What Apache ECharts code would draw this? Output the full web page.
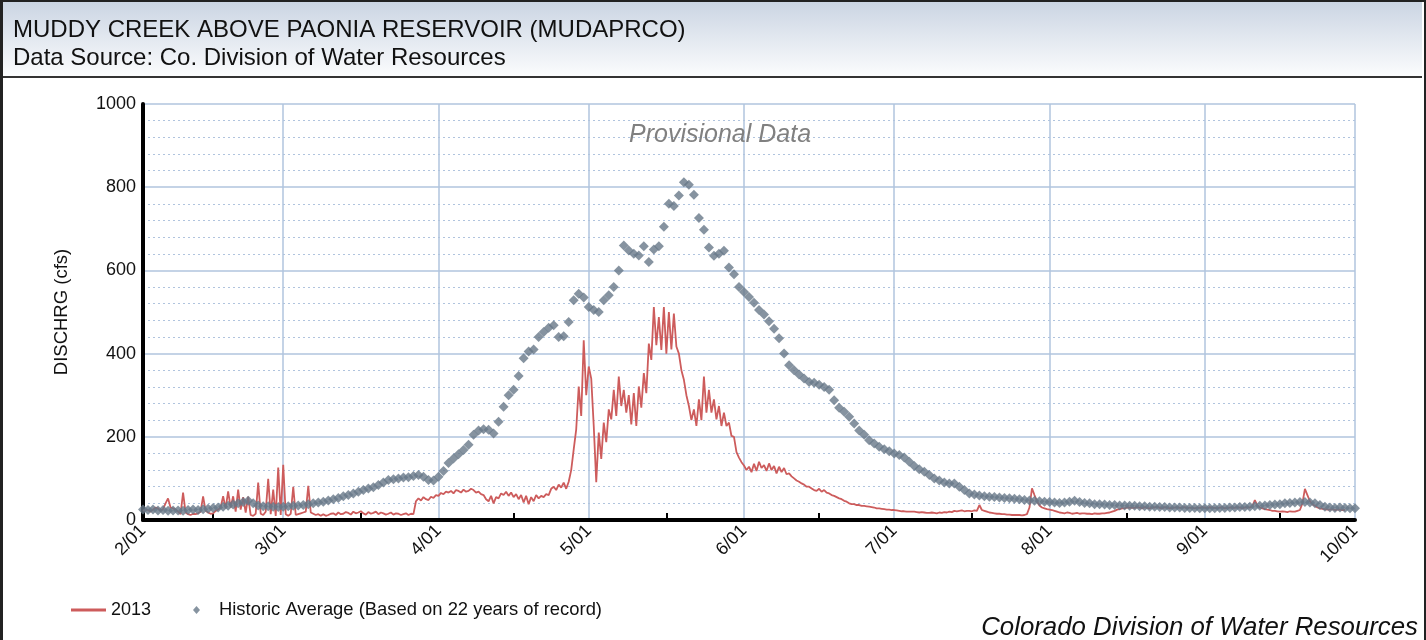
<!DOCTYPE html>
<html><head><meta charset="utf-8">
<script src="https://cdn.jsdelivr.net/npm/echarts@6/dist/echarts.min.js"></script>
<style>
html,body{margin:0;padding:0;width:1426px;height:640px;overflow:hidden;background:#fff;}
#frame{position:absolute;left:0;top:0;width:1426px;height:640px;box-sizing:border-box;border-left:3px solid #222;border-top:2px solid #222;border-right:2px solid #222;}
#header{position:absolute;left:3px;top:2px;width:1419px;height:74px;background:linear-gradient(#cbd5e3,#fbfcfd);border-bottom:2px solid #333;}
#chart{position:absolute;left:0;top:0;width:1426px;height:640px;}
</style></head>
<body>
<div id="frame"></div>
<div id="header"></div>
<div id="chart"></div>
<script>
const titleLine1 = 'MUDDY CREEK ABOVE PAONIA RESERVOIR (MUDAPRCO)';
const titleLine2 = 'Data Source: Co. Division of Water Resources';
const seriesNames = ['2013', 'Historic Average (Based on 22 years of record)'];
const tickLabels = ['2/01','3/01','4/01','5/01','6/01','7/01','8/01','9/01','10/01'];
const yTicks = [0, 200, 400, 600, 800, 1000];

// Historic average, one value per day from 2/01 to 10/01
const historicAvg = [
25,24,25,23,24,22,23,23,22,24,
25,24,26,27,29,30,32,34,37,40,
43,46,40,35,33,33,32,31,32,33,
34,35,36,38,40,42,44,47,50,53,
57,60,64,68,72,76,79,84,90,96,
98,100,102,103,106,108,104,96,95,104,
118,137,148,158,168,181,205,215,218,217,
208,236,272,300,313,346,389,405,410,440,
452,462,468,440,442,476,528,544,535,512,
505,500,528,540,560,600,660,648,640,636,
658,620,650,658,705,760,755,780,812,806,
782,726,698,655,635,640,647,607,591,560,
548,536,522,505,494,478,460,437,400,372,
360,350,340,332,330,325,320,313,288,270,
260,248,232,215,205,192,184,176,170,165,
160,156,150,140,130,122,116,108,100,95,
90,88,88,80,72,64,61,59,57,56,
55,54,53,52,51,50,48,47,46,45,
44,43,42,41,42,44,46,43,41,40,
38,38,37,36,36,35,35,34,34,33,
33,32,32,31,31,30,30,30,29,29,
29,28,28,28,28,29,29,30,30,31,
31,32,33,34,35,36,37,38,40,41,
42,43,43,42,40,36,32,30,29,30,
29,28,28
];

// 2013 discharge, two readings per day from 2/01 to 10/01
const flow2013 = [
22,25, 24,20, 25,30, 28,22, 26,40, 52,30, 28,25, 20,14, 66,18, 14,12,
15,14, 16,20, 57,22, 18,15, 16,22, 25,30, 57,28, 69,30, 57,20, 73,25,
55,18, 56,12, 10,15, 90,15, 12,20, 99,14, 73,10, 126,12, 133,14, 10,15,
80,12, 14,16, 18,20, 82,18, 15,12, 14,10, 14,10, 12,15, 16,12, 18,14,
15,19, 17,13, 20,16, 18,21, 16,13, 19,15, 17,20, 14,18, 16,13, 15,18,
13,16, 15,12, 14,16, 12,15, 14,45, 52,47, 55,50, 48,56, 53,60, 58,65,
62,68, 66,70, 64,72, 70,66, 73,68, 70,75, 72,66, 68,62, 60,50, 45,58,
40,55, 52,64, 60,68, 58,66, 55,62, 50,60, 42,58, 38,55, 45,60, 52,58,
55,62, 60,75, 80,72, 85,78, 90,75, 92,120, 170,218, 321,250, 432,300, 369,340,
226,91, 210,147, 234,187, 266,242, 313,250, 345,274, 313,258, 300,230, 305,226, 321,270,
353,305, 424,385, 512,420, 488,409, 512,400, 500,410, 496,417, 400,360, 337,300, 274,240,
266,226, 290,240, 345,258, 313,258, 290,242, 274,226, 258,226, 234,202, 200,163, 150,139,
131,120, 128,115, 135,118, 140,125, 132,118, 136,120, 130,112, 128,115, 125,110, 112,105,
100,95, 92,88, 85,80, 80,76, 72,70, 75,68, 72,66, 64,60, 58,55, 52,50,
46,44, 40,38, 38,36, 36,34, 34,33, 32,31, 30,28, 28,27, 26,25, 25,24,
24,23, 22,21, 21,20, 20,20, 20,19, 18,19, 18,17, 17,18, 17,16, 18,17,
19,18, 20,19, 22,21, 22,23, 21,22, 22,21, 23,22, 36,24, 22,20, 18,17,
16,15, 15,14, 14,13, 13,12, 12,12, 12,11, 12,14, 30,76, 60,45, 35,30,
28,26, 25,24, 22,20, 18,17, 16,18, 17,15, 16,17, 15,16, 16,15, 15,14,
16,15, 15,16, 16,17, 18,20, 22,25, 26,28, 28,30, 30,29, 29,31, 30,28,
31,29, 28,30, 30,32, 29,28, 31,30, 28,29, 30,31, 29,30, 31,28, 30,29,
28,30, 29,31, 30,28, 31,30, 29,28, 30,31, 28,29, 30,30, 29,31, 30,28,
30,31, 30,32, 48,35, 30,28, 26,25, 24,22, 22,21, 20,21, 20,19, 21,20,
20,22, 24,40, 75,60, 45,38, 34,30, 28,27, 26,25, 25,26, 24,25, 25,24,
24
];

const DAY = 86400000;
const start = new Date(2013, 1, 1).getTime();
const end = new Date(2013, 9, 1).getTime();
const histData = historicAvg.map((v, i) => [start + i * DAY, v]);
const redData = flow2013.map((v, i) => [start + i * DAY / 2, v]);
// mid-month minor tick positions: halfway between consecutive month starts
const monthStarts = tickLabels.map((_, i) => new Date(2013, 1 + i, 1).getTime());
const midTicks = monthStarts.slice(1).map((t, i) => (t + monthStarts[i]) / 2);

const FONT = '"Liberation Sans", Arial, sans-serif';
const chart = echarts.init(document.getElementById('chart'));
chart.setOption({
  animation: false,
  textStyle: { fontFamily: FONT },
  title: [
    { text: titleLine1, left: 8, top: 13, textStyle: { fontFamily: FONT, fontSize: 24, fontWeight: 'normal', color: '#111' } },
    { text: titleLine2, left: 8, top: 41, textStyle: { fontFamily: FONT, fontSize: 24, fontWeight: 'normal', color: '#111' } },
    { text: 'Provisional Data', left: 624, top: 118, textStyle: { fontFamily: FONT, fontSize: 25, fontStyle: 'italic', fontWeight: 'normal', color: '#808080', textShadowColor: '#cfcfcf', textShadowOffsetX: 2, textShadowOffsetY: 2, textShadowBlur: 0 } },
    { text: 'Colorado Division of Water Resources', right: 3, top: 610, textStyle: { fontFamily: FONT, fontSize: 25.8, fontStyle: 'italic', fontWeight: 'normal', color: '#111' } }
  ],
  legend: [
    { data: [{ name: seriesNames[0], icon: 'rect' }], left: 66, top: 596, itemWidth: 35, itemHeight: 3, itemGap: 10,
      textStyle: { fontFamily: FONT, fontSize: 18, color: '#111' } },
    { data: [{ name: seriesNames[1], icon: 'diamond' }], left: 188, top: 596, itemWidth: 7, itemHeight: 8,
      textStyle: { fontFamily: FONT, fontSize: 18.4, color: '#111', padding: [0, 0, 0, 14] } }
  ],
  grid: { left: 143, right: 71, top: 104, bottom: 120, containLabel: false },
  xAxis: [{
    type: 'time', min: start, max: end, minInterval: 28 * DAY, maxInterval: 31 * DAY,
    axisLine: { show: true, lineStyle: { color: '#000', width: 4 } },
    axisTick: { show: false },
    splitLine: { show: true, lineStyle: { color: '#b0c4de', width: 1.5 } },
    axisLabel: {
      rotate: 45, fontSize: 18, color: '#111', margin: 8, showMinLabel: true, showMaxLabel: true, hideOverlap: false,
      formatter: function (val) { const d = new Date(val); return tickLabels[d.getMonth() - 1] || ''; }
    }
  }, {
    type: 'time', min: start, max: end, position: 'bottom', offset: 0,
    axisLine: { show: false },
    axisTick: { show: true, inside: true, length: 7, customValues: midTicks, lineStyle: { color: '#000', width: 2 } },
    axisLabel: { show: false },
    splitLine: { show: false }
  }],
  yAxis: {
    type: 'value', min: yTicks[0], max: yTicks[yTicks.length - 1], interval: yTicks[1] - yTicks[0],
    name: 'DISCHRG (cfs)', nameLocation: 'middle', nameGap: 72,
    nameTextStyle: { fontFamily: FONT, fontSize: 18.5, color: '#111' },
    axisLine: { show: true, lineStyle: { color: '#000', width: 4 } },
    axisTick: { show: false },
    minorTick: { show: false, splitNumber: 5 },
    splitLine: { show: true, lineStyle: { color: '#b0c4de', width: 1.5 } },
    minorSplitLine: { show: true, lineStyle: { color: '#b0c4de', width: 1.2, type: [2, 3] } },
    axisLabel: { fontSize: 18, color: '#111', margin: 7, formatter: function (v) { return String(v); } }
  },
  series: [
    { name: seriesNames[0], type: 'line', data: redData, showSymbol: false, symbol: 'none',
      lineStyle: { color: '#cd5c5c', width: 1.8 }, itemStyle: { color: '#cd5c5c' }, z: 2 },
    { name: seriesNames[1], type: 'scatter', data: histData, symbol: 'diamond', symbolSize: [10, 10],
      itemStyle: { color: '#687888' }, z: 3 }
  ]
});
</script>
</body></html>
